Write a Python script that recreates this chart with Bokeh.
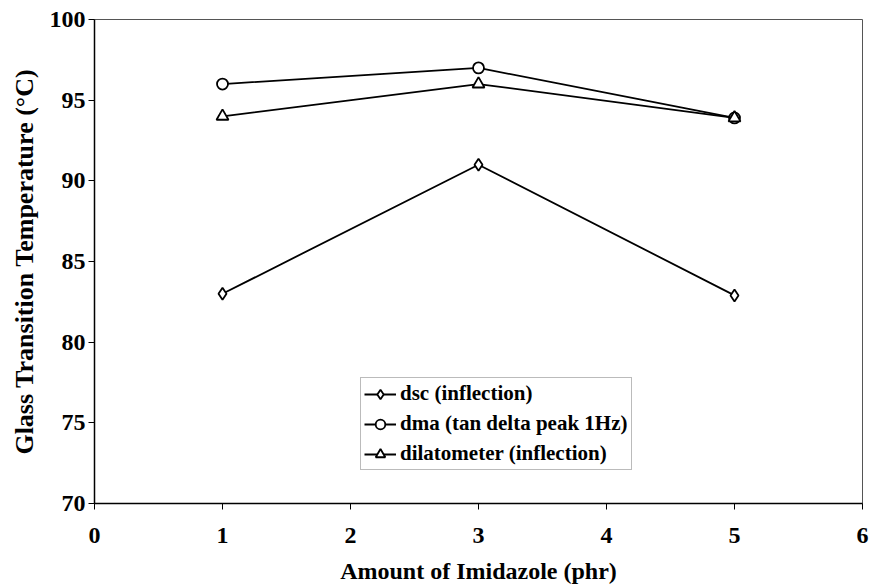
from bokeh.plotting import figure
from bokeh.models import Range1d, FixedTicker, Legend, LegendItem
from bokeh.embed import file_html
from bokeh.resources import INLINE

x_vals = [1, 3, 5]
dsc = [83.0, 91.0, 82.9]
dma = [96.0, 97.0, 93.9]
dil = [94.0, 96.0, 93.9]
x_ticks = [0, 1, 2, 3, 4, 5, 6]
y_ticks = [70, 75, 80, 85, 90, 95, 100]

FONT = "Liberation Serif"

p = figure(width=871, height=586, output_backend="svg", toolbar_location=None,
           x_range=Range1d(0, 6), y_range=Range1d(70, 100),
           min_border_left=94, min_border_right=9, min_border_top=19, min_border_bottom=83)
p.background_fill_color = "white"
p.border_fill_color = "white"
p.outline_line_color = "#555555"
p.outline_line_width = 1
p.xgrid.grid_line_color = None
p.ygrid.grid_line_color = None

for ax in (p.xaxis[0], p.yaxis[0]):
    ax.axis_line_color = "black"
    ax.axis_line_width = 1.5
    ax.major_tick_line_color = "black"
    ax.major_tick_in = 0
    ax.major_tick_out = 6
    ax.minor_tick_line_color = None
    ax.major_label_text_font = FONT
    ax.major_label_text_font_style = "bold"
    ax.major_label_text_font_size = "24px"
    ax.major_label_text_color = "black"
    ax.axis_label_text_font = FONT
    ax.axis_label_text_font_style = "bold"
    ax.axis_label_text_color = "black"

p.xaxis.axis_label_text_font_size = "24px"
p.yaxis.axis_label_text_font_size = "26px"
p.xaxis.ticker = FixedTicker(ticks=x_ticks)
p.yaxis.ticker = FixedTicker(ticks=y_ticks)
p.xaxis.major_label_standoff = 18
p.yaxis.major_label_standoff = 3
p.xaxis.axis_label = "Amount of Imidazole (phr)"
p.yaxis.axis_label = "Glass Transition Temperature (\u00b0C)"
p.xaxis.axis_label_standoff = 12
p.yaxis.axis_label_standoff = 8

items = []
for ys, marker, label in [(dsc, "diamond", "dsc (inflection)"),
                          (dma, "circle", "dma (tan delta peak 1Hz)"),
                          (dil, "triangle", "dilatometer (inflection)")]:
    ln = p.line(x_vals, ys, line_color="black", line_width=1.8)
    mk = p.scatter(x_vals, ys, marker=marker, size=12 if marker != "circle" else 11,
                   fill_color="white", line_color="black", line_width=1.8)
    items.append(LegendItem(label=label, renderers=[ln, mk]))

legend = Legend(items=items, location=(266, 33))
legend.label_text_font = FONT
legend.label_text_font_style = "bold"
legend.label_text_font_size = "21px"
legend.label_text_color = "black"
legend.border_line_color = "#777777"
legend.border_line_width = 1
legend.background_fill_color = "white"
legend.glyph_width = 32
legend.glyph_height = 24
legend.label_standoff = 4
legend.spacing = 5
legend.padding = 3
legend.margin = 0
legend.label_height = 24
p.add_layout(legend, "center")

open("out.html", "w").write(file_html(p, INLINE))
